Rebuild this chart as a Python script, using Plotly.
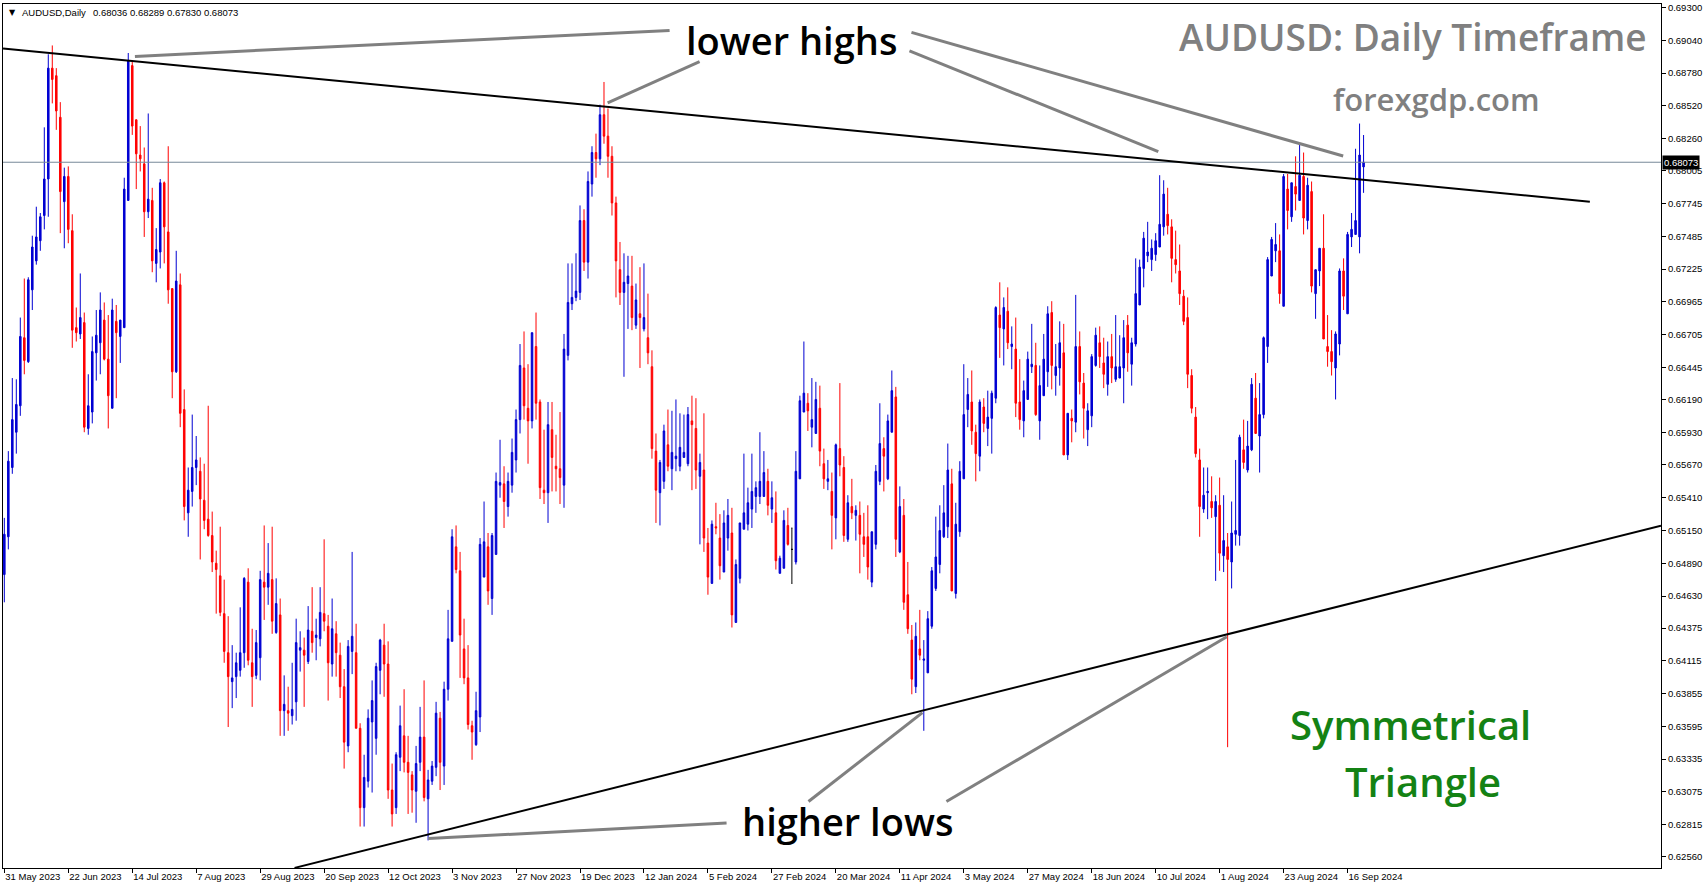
import plotly.graph_objects as go

# ---------------- data ----------------
open_ = [0.6480,0.6510,0.6565,0.6593,0.6614,0.6668,0.6649,0.6706,0.6729,0.6745,
0.6765,0.6794,0.6882,0.6876,0.6843,0.6776,0.6796,0.6753,0.6676,0.6671,
0.6680,0.6596,0.6609,0.6656,0.6664,0.6682,0.6651,0.6612,0.6681,0.6669,
0.6676,0.6777,0.6884,0.6841,0.6813,0.6806,0.6768,0.6777,0.6727,0.6736,
0.6791,0.6752,0.6707,0.6641,0.6710,0.6611,0.6529,0.6546,0.6565,0.6562,
0.6539,0.6524,0.6511,0.6489,0.6479,0.6449,0.6418,0.6395,0.6399,0.6404,
0.6418,0.6474,0.6410,0.6400,0.6414,0.6474,0.6470,0.6476,0.6434,0.6448,
0.6372,0.6372,0.6368,0.6379,0.6420,0.6420,0.6411,0.6435,0.6430,0.6429,
0.6449,0.6439,0.6409,0.6433,0.6416,0.6391,0.6344,0.6419,0.6418,0.6358,
0.6295,0.6316,0.6363,0.6350,0.6404,0.6424,0.6409,0.6309,0.6295,0.6335,
0.6352,0.6331,0.6321,0.6308,0.6331,0.6351,0.6302,0.6316,0.6327,0.6366,
0.6328,0.6389,0.6427,0.6502,0.6483,0.6421,0.6398,0.6360,0.6345,0.6367,
0.6478,0.6502,0.6461,0.6496,0.6551,0.6552,0.6534,0.6551,0.6571,0.6603,
0.6644,0.6612,0.6602,0.6661,0.6617,0.6547,0.6545,0.6595,0.6566,0.6564,
0.6551,0.6654,0.6695,0.6700,0.6704,0.6761,0.6728,0.6790,0.6815,0.6810,
0.6845,0.6828,0.6812,0.6775,0.6722,0.6704,0.6711,0.6709,0.6678,0.6687,
0.6675,0.6668,0.6645,0.6578,0.6545,0.6554,0.6583,0.6564,0.6572,0.6566,
0.6573,0.6568,0.6602,0.6596,0.6558,0.6563,0.6505,0.6473,0.6518,0.6509,
0.6482,0.6509,0.6513,0.6442,0.6477,0.6516,0.6520,0.6532,0.6542,0.6542,
0.6542,0.6554,0.6532,0.6529,0.6481,0.6485,0.6519,0.6500,0.6490,0.6556,
0.6609,0.6616,0.6597,0.6592,0.6612,0.6568,0.6554,0.6546,0.6525,0.6580,
0.6565,0.6508,0.6534,0.6527,0.6527,0.6510,0.6510,0.6474,0.6504,0.6554,
0.6580,0.6556,0.6593,0.6621,0.6498,0.6527,0.6464,0.6428,0.6391,0.6421,
0.6412,0.6402,0.6439,0.6469,0.6488,0.6510,0.6518,0.6552,0.6465,0.6514,
0.6556,0.6611,0.6617,0.6593,0.6574,0.6613,0.6596,0.6604,0.6620,0.6686,
0.6675,0.6689,0.6661,0.6659,0.6617,0.6602,0.6619,0.6645,0.6646,0.6602,
0.6622,0.6641,0.6688,0.6638,0.6644,0.6656,0.6575,0.6604,0.6601,0.6661,
0.6632,0.6595,0.6606,0.6646,0.6664,0.6648,0.6631,0.6653,0.6635,0.6636,
0.6644,0.6678,0.6647,0.6663,0.6694,0.6723,0.6733,0.6730,0.6734,0.6740,
0.6756,0.6766,0.6756,0.6730,0.6721,0.6701,0.6684,0.6638,0.6605,0.6571,
0.6532,0.6545,0.6538,0.6526,0.6535,0.6495,0.6502,0.6490,0.6512,0.6511,
0.6579,0.6563,0.6579,0.6620,0.6590,0.6607,0.6661,0.6717,0.6737,0.6737,
0.6693,0.6786,0.6764,0.6788,0.6777,0.6796,0.6761,0.6784,0.6703,0.6721,
0.6739,0.6661,0.6657,0.6644,0.6663,0.6721,0.6687,0.6748,0.6750,0.6748,
0.68036]

high = [0.6525,0.6578,0.6636,0.6635,0.6684,0.6715,0.6716,0.6749,0.6772,0.6767,
0.6835,0.6893,0.6900,0.6882,0.6855,0.6803,0.6804,0.6766,0.6692,0.6719,
0.6688,0.6639,0.6669,0.6690,0.6704,0.6696,0.6686,0.6699,0.6694,0.6682,
0.6795,0.6894,0.6888,0.6841,0.6836,0.6819,0.6846,0.6787,0.6755,0.6794,
0.6792,0.6820,0.6707,0.6737,0.6719,0.6627,0.6565,0.6607,0.6590,0.6573,
0.6568,0.6614,0.6530,0.6499,0.6518,0.6476,0.6447,0.6424,0.6418,0.6454,
0.6478,0.6485,0.6437,0.6436,0.6483,0.6519,0.6505,0.6518,0.6477,0.6461,
0.6400,0.6391,0.6410,0.6445,0.6435,0.6430,0.6455,0.6470,0.6445,0.6470,
0.6508,0.6448,0.6461,0.6443,0.6426,0.6405,0.6428,0.6498,0.6441,0.6362,
0.6337,0.6373,0.6396,0.6410,0.6429,0.6441,0.6427,0.6330,0.6339,0.6376,
0.6389,0.6352,0.6324,0.6344,0.6375,0.6396,0.6325,0.6332,0.6379,0.6371,
0.6395,0.6452,0.6516,0.6519,0.6498,0.6445,0.6424,0.6364,0.6387,0.6509,
0.6538,0.6513,0.6513,0.6561,0.6587,0.6566,0.6561,0.6588,0.6611,0.6663,
0.6673,0.6647,0.6672,0.6688,0.6619,0.6595,0.6617,0.6617,0.6591,0.6609,
0.6671,0.6727,0.6727,0.6735,0.6773,0.6770,0.6800,0.6820,0.6830,0.6853,
0.6871,0.6850,0.6820,0.6780,0.6744,0.6735,0.6733,0.6733,0.6711,0.6724,
0.6727,0.6703,0.6658,0.6592,0.6571,0.6599,0.6611,0.6610,0.6619,0.6608,
0.6607,0.6613,0.6622,0.6620,0.6576,0.6608,0.6517,0.6523,0.6537,0.6528,
0.6531,0.6540,0.6533,0.6492,0.6521,0.6576,0.6549,0.6576,0.6554,0.6593,
0.6578,0.6564,0.6554,0.6546,0.6495,0.6531,0.6533,0.6517,0.6578,0.6622,
0.6665,0.6624,0.6636,0.6633,0.6630,0.6580,0.6571,0.6561,0.6584,0.6632,
0.6574,0.6543,0.6556,0.6535,0.6538,0.6529,0.6535,0.6514,0.6567,0.6616,
0.6589,0.6607,0.6642,0.6629,0.6550,0.6540,0.6490,0.6440,0.6442,0.6452,
0.6428,0.6451,0.6486,0.6526,0.6535,0.6551,0.6584,0.6564,0.6537,0.6570,
0.6647,0.6636,0.6642,0.6599,0.6619,0.6620,0.6626,0.6626,0.6693,0.6712,
0.6700,0.6708,0.6677,0.6684,0.6651,0.6634,0.6657,0.6679,0.6664,0.6646,
0.6671,0.6693,0.6697,0.6663,0.6681,0.6679,0.6608,0.6611,0.6702,0.6673,
0.6640,0.6616,0.6655,0.6676,0.6677,0.6668,0.6665,0.6671,0.6686,0.6670,
0.6682,0.6686,0.6668,0.6731,0.6730,0.6752,0.6760,0.6746,0.6751,0.6797,
0.6793,0.6787,0.6762,0.6753,0.6742,0.6706,0.6700,0.6643,0.6613,0.6580,
0.6565,0.6565,0.6558,0.6543,0.6557,0.6543,0.6513,0.6538,0.6571,0.6591,
0.6603,0.6602,0.6636,0.6640,0.6632,0.6669,0.6732,0.6748,0.6759,0.6750,
0.6798,0.6798,0.6791,0.6812,0.6822,0.6815,0.6795,0.6792,0.6722,0.6739,
0.6766,0.6686,0.6674,0.6673,0.6723,0.6731,0.6752,0.6767,0.6818,0.6838,
0.68289]

low = [0.6458,0.6500,0.6560,0.6576,0.6606,0.6639,0.6648,0.6690,0.6726,0.6737,
0.6754,0.6764,0.6854,0.6833,0.6751,0.6739,0.6743,0.6660,0.6665,0.6667,
0.6593,0.6591,0.6600,0.6634,0.6639,0.6650,0.6596,0.6612,0.6620,0.6648,
0.6676,0.6777,0.6829,0.6786,0.6800,0.6748,0.6763,0.6720,0.6712,0.6723,
0.6727,0.6695,0.6620,0.6640,0.6597,0.6523,0.6510,0.6534,0.6551,0.6492,
0.6516,0.6510,0.6482,0.6449,0.6447,0.6410,0.6359,0.6374,0.6382,0.6399,
0.6406,0.6408,0.6375,0.6397,0.6396,0.6444,0.6456,0.6433,0.6433,0.6352,
0.6352,0.6356,0.6361,0.6364,0.6403,0.6375,0.6409,0.6418,0.6412,0.6423,
0.6435,0.6380,0.6399,0.6399,0.6382,0.6326,0.6339,0.6401,0.6358,0.6280,
0.6280,0.6311,0.6307,0.6337,0.6385,0.6383,0.6302,0.6280,0.6290,0.6324,
0.6323,0.6290,0.6291,0.6283,0.6324,0.6300,0.6269,0.6313,0.6320,0.6309,
0.6313,0.6380,0.6427,0.6481,0.6398,0.6393,0.6357,0.6333,0.6344,0.6355,
0.6478,0.6456,0.6448,0.6496,0.6541,0.6517,0.6526,0.6545,0.6561,0.6592,
0.6603,0.6568,0.6596,0.6603,0.6540,0.6536,0.6521,0.6546,0.6546,0.6536,
0.6533,0.6650,0.6690,0.6697,0.6698,0.6721,0.6715,0.6780,0.6795,0.6805,
0.6822,0.6795,0.6765,0.6700,0.6694,0.6637,0.6675,0.6674,0.6675,0.6644,
0.6673,0.6647,0.6572,0.6521,0.6519,0.6548,0.6562,0.6547,0.6562,0.6562,
0.6573,0.6566,0.6547,0.6548,0.6504,0.6498,0.6464,0.6473,0.6512,0.6476,
0.6482,0.6499,0.6438,0.6442,0.6473,0.6516,0.6515,0.6517,0.6529,0.6536,
0.6542,0.6527,0.6521,0.6484,0.6481,0.6485,0.6503,0.6473,0.6488,0.6556,
0.6609,0.6594,0.6581,0.6592,0.6566,0.6548,0.6547,0.6500,0.6508,0.6558,
0.6506,0.6506,0.6524,0.6507,0.6481,0.6494,0.6476,0.6470,0.6500,0.6551,
0.6546,0.6555,0.6593,0.6494,0.6497,0.6452,0.6433,0.6385,0.6386,0.6412,
0.6356,0.6402,0.6437,0.6467,0.6481,0.6509,0.6509,0.6467,0.6461,0.6510,
0.6556,0.6597,0.6583,0.6554,0.6562,0.6593,0.6582,0.6576,0.6616,0.6652,
0.6646,0.6659,0.6643,0.6605,0.6595,0.6589,0.6619,0.6640,0.6606,0.6587,
0.6622,0.6629,0.6627,0.6622,0.6630,0.6575,0.6571,0.6585,0.6593,0.6623,
0.6588,0.6582,0.6597,0.6645,0.6644,0.6628,0.6622,0.6632,0.6633,0.6636,
0.6616,0.6641,0.6630,0.6661,0.6694,0.6708,0.6728,0.6721,0.6729,0.6740,
0.6749,0.6750,0.6712,0.6719,0.6694,0.6678,0.6628,0.6608,0.6573,0.6510,
0.6529,0.6524,0.6525,0.6475,0.6483,0.6482,0.6343,0.6469,0.6503,0.6503,
0.6564,0.6561,0.6578,0.6592,0.6561,0.6604,0.6648,0.6717,0.6728,0.6695,
0.6693,0.6754,0.6760,0.6769,0.6777,0.6750,0.6754,0.6704,0.6683,0.6709,
0.6667,0.6645,0.6638,0.6619,0.6654,0.6690,0.6687,0.6740,0.6750,0.6735,
0.67830]

close = [0.6512,0.6570,0.6603,0.6615,0.6669,0.6650,0.6714,0.6740,0.6748,0.6764,
0.6794,0.6882,0.6873,0.6848,0.6784,0.6796,0.6754,0.6674,0.6672,0.6684,
0.6597,0.6614,0.6657,0.6670,0.6690,0.6651,0.6622,0.6690,0.6672,0.6682,
0.6786,0.6888,0.6836,0.6814,0.6810,0.6768,0.6778,0.6729,0.6738,0.6791,
0.6756,0.6706,0.6641,0.6713,0.6608,0.6534,0.6547,0.6565,0.6571,0.6540,
0.6523,0.6511,0.6490,0.6484,0.6450,0.6419,0.6399,0.6398,0.6410,0.6418,
0.6477,0.6412,0.6399,0.6426,0.6476,0.6470,0.6481,0.6443,0.6457,0.6372,
0.6377,0.6370,0.6373,0.6426,0.6422,0.6416,0.6436,0.6426,0.6432,0.6450,
0.6443,0.6410,0.6437,0.6418,0.6391,0.6347,0.6423,0.6431,0.6358,0.6295,
0.6319,0.6366,0.6380,0.6407,0.6428,0.6409,0.6309,0.6290,0.6337,0.6360,
0.6331,0.6323,0.6309,0.6330,0.6351,0.6303,0.6317,0.6328,0.6370,0.6331,
0.6389,0.6429,0.6510,0.6484,0.6432,0.6398,0.6361,0.6355,0.6372,0.6504,
0.6506,0.6467,0.6511,0.6554,0.6553,0.6538,0.6554,0.6577,0.6603,0.6646,
0.6614,0.6602,0.6672,0.6616,0.6549,0.6545,0.6599,0.6573,0.6564,0.6557,
0.6659,0.6696,0.6700,0.6705,0.6761,0.6728,0.6792,0.6815,0.6810,0.6845,
0.6828,0.6812,0.6775,0.6729,0.6704,0.6712,0.6717,0.6684,0.6698,0.6684,
0.6684,0.6656,0.6580,0.6547,0.6569,0.6594,0.6566,0.6577,0.6574,0.6581,
0.6577,0.6607,0.6599,0.6563,0.6569,0.6509,0.6478,0.6520,0.6517,0.6487,
0.6521,0.6527,0.6448,0.6488,0.6521,0.6529,0.6537,0.6546,0.6549,0.6554,
0.6561,0.6535,0.6541,0.6491,0.6493,0.6523,0.6504,0.6500,0.6562,0.6618,
0.6624,0.6610,0.6603,0.6619,0.6578,0.6556,0.6556,0.6527,0.6583,0.6567,
0.6511,0.6537,0.6529,0.6531,0.6512,0.6504,0.6486,0.6514,0.6562,0.6584,
0.6574,0.6602,0.6626,0.6508,0.6534,0.6458,0.6437,0.6397,0.6431,0.6416,
0.6413,0.6445,0.6483,0.6494,0.6515,0.6529,0.6563,0.6467,0.6520,0.6562,
0.6607,0.6623,0.6594,0.6576,0.6617,0.6600,0.6605,0.6624,0.6692,0.6676,
0.6692,0.6664,0.6663,0.6616,0.6603,0.6626,0.6651,0.6647,0.6607,0.6630,
0.6651,0.6687,0.6646,0.6645,0.6664,0.6575,0.6608,0.6602,0.6661,0.6633,
0.6612,0.6610,0.6653,0.6670,0.6653,0.6639,0.6653,0.6644,0.6645,0.6645,
0.6668,0.6656,0.6664,0.6703,0.6724,0.6747,0.6736,0.6739,0.6745,0.6758,
0.6782,0.6757,0.6731,0.6726,0.6703,0.6681,0.6639,0.6612,0.6576,0.6534,
0.6543,0.6546,0.6533,0.6538,0.6497,0.6507,0.6492,0.6513,0.6515,0.6589,
0.6569,0.6582,0.6631,0.6592,0.6607,0.6668,0.6730,0.6746,0.6742,0.6703,
0.6796,0.6769,0.6791,0.6782,0.6797,0.6763,0.6789,0.6709,0.6722,0.6739,
0.6667,0.6657,0.6649,0.6671,0.6721,0.6701,0.6750,0.6754,0.6761,0.6813,
0.68073]

# time-axis labels (every 16th bar)
date_labels = ["31 May 2023", "22 Jun 2023", "14 Jul 2023", "7 Aug 2023", "29 Aug 2023",
               "20 Sep 2023", "12 Oct 2023", "3 Nov 2023", "27 Nov 2023", "19 Dec 2023",
               "12 Jan 2024", "5 Feb 2024", "27 Feb 2024", "20 Mar 2024", "11 Apr 2024",
               "3 May 2024", "27 May 2024", "18 Jun 2024", "10 Jul 2024", "1 Aug 2024",
               "23 Aug 2024", "16 Sep 2024"]
label_step = 16

# price-axis labels
price_ticks = [0.69300, 0.69040, 0.68780, 0.68520, 0.68260, 0.68005, 0.67745, 0.67485,
               0.67225, 0.66965, 0.66705, 0.66445, 0.66190, 0.65930, 0.65670, 0.65410,
               0.65150, 0.64890, 0.64630, 0.64375, 0.64115, 0.63855, 0.63595, 0.63335,
               0.63075, 0.62815, 0.62560]

last_price = 0.68073
header_ohlc = "0.68036 0.68289 0.67830 0.68073"

# trendline anchors (bar index, price)
upper_tl_x = [-0.33, 396.6]
upper_tl_y = [0.68976, 0.67760]
lower_tl_x = [72.6, 414.4]
lower_tl_y = [0.62472, 0.65188]

# ---------------- figure ----------------
n = len(close)
xs = list(range(n))

W, H = 1705, 888
ML, MR, MT, MB = 2, 44, 2, 20
PW, PH = W - ML - MR, H - MT - MB

def px(x):
    return (x - ML) / PW

def py(y):
    return (MT + PH - y) / PH

BLUE = "rgb(0,0,210)"
RED = "rgb(255,0,0)"

normal = [i for i in xs if open_[i] != close[i]]
doji = [i for i in xs if open_[i] == close[i]]

fig = go.Figure()
fig.add_trace(go.Candlestick(
    x=[xs[i] for i in normal], open=[open_[i] for i in normal], high=[high[i] for i in normal],
    low=[low[i] for i in normal], close=[close[i] for i in normal],
    increasing=dict(line=dict(color=BLUE, width=1), fillcolor=BLUE),
    decreasing=dict(line=dict(color=RED, width=1), fillcolor=RED),
    whiskerwidth=0, hoverinfo="skip", showlegend=False))
if doji:
    fig.add_trace(go.Candlestick(
        x=[xs[i] for i in doji], open=[open_[i] for i in doji], high=[high[i] for i in doji],
        low=[low[i] for i in doji], close=[close[i] for i in doji],
        increasing=dict(line=dict(color="black", width=1), fillcolor="black"),
        decreasing=dict(line=dict(color="black", width=1), fillcolor="black"),
        whiskerwidth=0.6, hoverinfo="skip", showlegend=False))

# price line
fig.add_trace(go.Scatter(x=[-1, 420], y=[last_price, last_price], mode="lines",
                         line=dict(color="rgb(119,136,153)", width=1),
                         hoverinfo="skip", showlegend=False))
# trendlines
fig.add_trace(go.Scatter(x=upper_tl_x, y=upper_tl_y, mode="lines",
                         line=dict(color="black", width=2), hoverinfo="skip", showlegend=False))
fig.add_trace(go.Scatter(x=lower_tl_x, y=lower_tl_y, mode="lines",
                         line=dict(color="black", width=2), hoverinfo="skip", showlegend=False))

# gray pointer lines (pixel positions in the picture)
pointers = [((134, 54.5), (669, 28.5)),
            ((699, 59.8), (607, 101)),
            ((909, 48.9), (1158, 150)),
            ((911, 30.4), (1343, 154.4)),
            ((726, 823), (427.5, 838.5)),
            ((808, 801.4), (922, 712.3)),
            ((946, 801.4), (1226.6, 636.2))]
shapes = []
for (x0, y0), (x1, y1) in pointers:
    shapes.append(dict(type="line", xref="paper", yref="paper",
                       x0=px(x0), y0=py(y0), x1=px(x1), y1=py(y1),
                       line=dict(color="rgb(128,128,128)", width=3)))

small = dict(family="Liberation Sans, Arial, sans-serif", size=9.5, color="black")
big_family = "Open Sans, sans-serif"

annotations = [
    dict(text="▼", x=px(6.5), y=py(10.5), xanchor="left", yanchor="middle",
         font=dict(family="DejaVu Sans", size=8, color="black")),
    dict(text="AUDUSD,Daily", x=px(19), y=py(10.5), xanchor="left", yanchor="middle", font=small),
    dict(text=header_ohlc, x=px(90), y=py(10.5), xanchor="left", yanchor="middle", font=small),
    dict(text="lower highs", x=px(790.6), y=py(38), xanchor="center", yanchor="middle",
         font=dict(family=big_family, size=38, color="black", weight=600)),
    dict(text="higher lows", x=px(847), y=py(821), xanchor="center", yanchor="middle",
         font=dict(family=big_family, size=38, color="black", weight=600)),
    dict(text="AUDUSD: Daily Timeframe", x=px(1412.6), y=py(34.3), xanchor="center", yanchor="middle",
         font=dict(family=big_family, size=37, color="rgb(128,128,128)", weight=600)),
    dict(text="forexgdp.com", x=px(1436.5), y=py(97.3), xanchor="center", yanchor="middle",
         font=dict(family=big_family, size=31, color="rgb(128,128,128)", weight=600)),
    dict(text="Symmetrical", x=px(1410.4), y=py(724), xanchor="center", yanchor="middle",
         font=dict(family=big_family, size=40, color="rgb(20,130,20)", weight=600)),
    dict(text="Triangle", x=px(1423), y=py(781), xanchor="center", yanchor="middle",
         font=dict(family=big_family, size=40, color="rgb(20,130,20)", weight=600)),
    dict(text=f"{last_price:.5f}", xref="paper", yref="y", x=1.0, y=last_price,
         xanchor="left", yanchor="middle", xshift=1, bgcolor="black", borderpad=1,
         font=dict(family="Liberation Sans, Arial, sans-serif", size=9.5, color="white")),
]
for a in annotations:
    a.setdefault("xref", "paper")
    a.setdefault("yref", "paper")
    a.setdefault("showarrow", False)

fig.update_layout(
    width=W, height=H,
    margin=dict(l=ML, r=MR, t=MT, b=MB, pad=0),
    paper_bgcolor="white", plot_bgcolor="white",
    boxgap=0.45, boxmode="overlay",
    shapes=shapes, annotations=annotations,
    showlegend=False, hovermode=False,
    xaxis=dict(range=[-0.33, 414.4], rangeslider=dict(visible=False),
               tickvals=[i * label_step for i in range(len(date_labels))],
               ticktext=date_labels, ticks="outside", ticklen=4, tickcolor="black",
               ticklabelposition="outside right", tickfont=small,
               ticklabeloverflow="allow",
               showgrid=False, zeroline=False, showline=True, linecolor="black",
               linewidth=1, mirror=True, fixedrange=True),
    yaxis=dict(range=[0.62471, 0.69329], side="right",
               tickvals=price_ticks, ticktext=[f"{v:.5f}" for v in price_ticks],
               ticks="outside", ticklen=4, tickcolor="black", tickfont=small,
               ticklabeloverflow="allow",
               showgrid=False, zeroline=False, showline=True, linecolor="black",
               linewidth=1, mirror=True, fixedrange=True),
)

fig.write_html("out.html", include_plotlyjs=True, config={"displayModeBar": False},
               post_script="document.body.style.margin='0px';document.body.style.overflow='hidden';")
